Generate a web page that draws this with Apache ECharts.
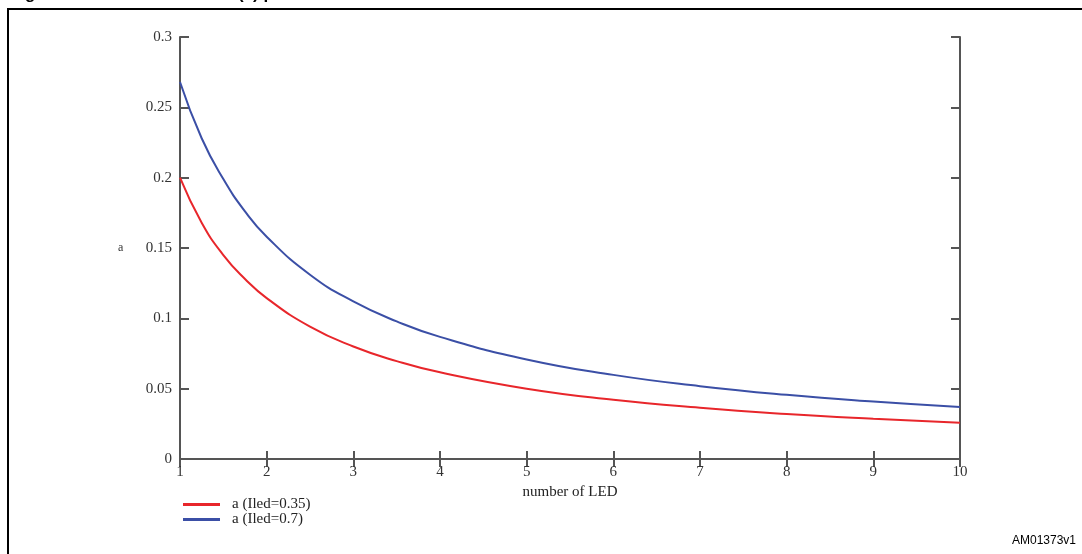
<!DOCTYPE html>
<html>
<head>
<meta charset="utf-8">
<script src="https://cdn.jsdelivr.net/npm/echarts@6/dist/echarts.min.js"></script>
<style>
  html, body { margin: 0; padding: 0; background: #fff; }
  #chart { width: 1082px; height: 554px; }
</style>
</head>
<body>
<div id="chart"></div>
<script>
// number of LED (x) and the two curves
var ledCount = [1, 1.25, 1.5, 1.75, 2, 2.5, 3, 3.5, 4, 5, 6, 7, 8, 9, 10];
var aLow  = [0.200, 0.168, 0.145, 0.128, 0.1144, 0.0941, 0.080, 0.0696, 0.0616, 0.050, 0.0421, 0.0364, 0.0320, 0.0286, 0.0258];
var aHigh = [0.268, 0.228, 0.199, 0.176, 0.158, 0.131, 0.112, 0.0978, 0.0868, 0.0708, 0.0598, 0.0518, 0.0456, 0.0408, 0.0369];
var seriesNames = ['a (Iled=0.35)', 'a (Iled=0.7)'];

function pairs(xs, ys) {
  var out = [];
  for (var i = 0; i < xs.length; i++) out.push([xs[i], ys[i]]);
  return out;
}

var chart = echarts.init(document.getElementById('chart'), null, {renderer: 'canvas'});

var axisColor = '#555';
var serif = '"Liberation Serif", "DejaVu Serif", serif';

var option = {
  animation: false,
  backgroundColor: '#fff',
  grid: {left: 180, right: 122, top: 37, bottom: 95},
  legend: {
    orient: 'vertical',
    left: 178,
    top: 492,
    itemWidth: 37,
    itemHeight: 3,
    itemGap: 0,
    icon: 'rect',
    textStyle: {fontFamily: serif, fontSize: 15, color: '#222', padding: [0, 0, 0, 7]},
    data: seriesNames
  },
  graphic: [
    {type: 'rect', shape: {x: 8, y: 9, width: 1200, height: 700}, style: {fill: 'none', stroke: '#000', lineWidth: 2}},
    {type: 'text', x: 10, y: 3, style: {text: 'Figure 9.', font: 'bold 17px "Liberation Sans", Arial, sans-serif', fill: '#000', verticalAlign: 'bottom'}},
    {type: 'text', x: 238, y: 3, style: {text: '(a) parameter', font: 'bold 17px "Liberation Sans", Arial, sans-serif', fill: '#000', verticalAlign: 'bottom'}},
    {type: 'text', x: 1012, y: 541, style: {text: 'AM01373v1', font: '12px "Liberation Sans", Arial, sans-serif', fill: '#000', verticalAlign: 'middle'}},
    {type: 'text', x: 118, y: 248, style: {text: 'a', font: '12px ' + serif, fill: '#333', verticalAlign: 'middle'}}
  ],
  xAxis: [
    {
      type: 'value', min: 1, max: 10, interval: 1,
      name: 'number of LED', nameLocation: 'middle', nameGap: 17,
      nameTextStyle: {fontFamily: serif, fontSize: 15, color: '#222'},
      axisLine: {show: true, lineStyle: {color: axisColor, width: 2}},
      axisTick: {show: true, inside: true, length: 8, lineStyle: {color: axisColor, width: 2}},
      axisLabel: {fontFamily: serif, fontSize: 15, color: '#333', margin: 6},
      splitLine: {show: false}
    },
    {
      type: 'value', min: 1, max: 10, interval: 1, position: 'top',
      axisLine: {show: true, lineStyle: {color: axisColor, width: 2}},
      axisTick: {show: true, inside: true, length: 8, lineStyle: {color: axisColor, width: 2}},
      axisLabel: {show: false},
      splitLine: {show: false}
    }
  ],
  yAxis: [
    {
      type: 'value', min: 0, max: 0.3, interval: 0.05,
      axisLine: {show: true, lineStyle: {color: axisColor, width: 2}},
      axisTick: {show: true, inside: true, length: 9, lineStyle: {color: axisColor, width: 2}},
      axisLabel: {fontFamily: serif, fontSize: 15, color: '#333', margin: 8},
      splitLine: {show: false}
    },
    {
      type: 'value', min: 0, max: 0.3, interval: 0.05, position: 'right',
      axisLine: {show: true, lineStyle: {color: axisColor, width: 2}},
      axisTick: {show: true, inside: true, length: 9, lineStyle: {color: axisColor, width: 2}},
      axisLabel: {show: false},
      splitLine: {show: false}
    }
  ],
  series: [
    {
      name: seriesNames[0], type: 'line', smooth: true, symbol: 'none',
      color: '#e8262b',
      lineStyle: {width: 2, color: '#e8262b'},
      data: pairs(ledCount, aLow)
    },
    {
      name: seriesNames[1], type: 'line', smooth: true, symbol: 'none',
      color: '#3b4fa6',
      lineStyle: {width: 2, color: '#3b4fa6'},
      data: pairs(ledCount, aHigh)
    }
  ]
};

chart.setOption(option);
</script>
</body>
</html>
